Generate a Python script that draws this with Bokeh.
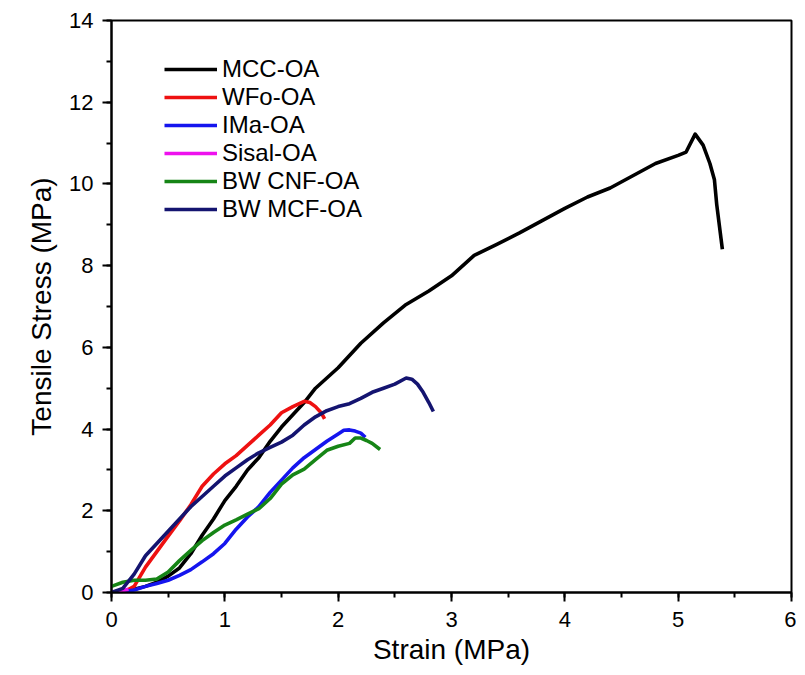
from bokeh.plotting import figure
from bokeh.models import Range1d, SingleIntervalTicker, Legend, LegendItem
from bokeh.embed import file_html
from bokeh.resources import INLINE

# ---- data ----
mcc_x = [0, 0.1, 0.2, 0.3, 0.4, 0.5, 0.6, 0.7, 0.8, 0.9, 1.0, 1.1, 1.2, 1.3, 1.4, 1.5, 1.6, 1.7, 1.8, 1.9,
         2.0, 2.1, 2.2, 2.4, 2.6, 2.8, 3.0, 3.2, 3.4, 3.6, 3.8, 4.0, 4.2, 4.4, 4.6, 4.8, 5.0, 5.07, 5.15,
         5.22, 5.28, 5.32, 5.34, 5.39]
mcc_y = [0, 0.03, 0.08, 0.15, 0.25, 0.4, 0.6, 0.95, 1.4, 1.8, 2.25, 2.6, 3.0, 3.3, 3.7, 4.05, 4.35, 4.65, 5.0, 5.25,
         5.5, 5.8, 6.1, 6.6, 7.05, 7.38, 7.75, 8.25, 8.52, 8.8, 9.1, 9.4, 9.68, 9.9, 10.2, 10.5, 10.7, 10.78, 11.22,
         10.95, 10.5, 10.1, 9.5, 8.4]

wfo_x = [0.1, 0.2, 0.3, 0.4, 0.5, 0.6, 0.7, 0.8, 0.9, 1.0, 1.1, 1.2, 1.3, 1.4, 1.5, 1.6, 1.7, 1.75, 1.8, 1.85, 1.88]
wfo_y = [0.0, 0.15, 0.62, 1.0, 1.38, 1.75, 2.15, 2.6, 2.9, 3.15, 3.35, 3.6, 3.85, 4.1, 4.4, 4.55, 4.68, 4.65, 4.55, 4.4, 4.25]

ima_x = [0, 0.1, 0.2, 0.3, 0.4, 0.5, 0.6, 0.7, 0.8, 0.9, 1.0, 1.1, 1.2, 1.3, 1.4, 1.5, 1.6, 1.7, 1.8, 1.9,
         2.0, 2.05, 2.1, 2.15, 2.2, 2.24]
ima_y = [0, 0.02, 0.06, 0.15, 0.22, 0.3, 0.42, 0.56, 0.75, 0.95, 1.2, 1.55, 1.85, 2.1, 2.45, 2.75, 3.05, 3.3, 3.5, 3.7,
         3.88, 3.97, 3.98, 3.95, 3.9, 3.8]

sisal_x = [0, 0.05, 0.1, 0.15]
sisal_y = [0, 0.02, 0.05, 0.08]

cnf_x = [0, 0.1, 0.2, 0.3, 0.4, 0.5, 0.6, 0.7, 0.8, 0.9, 1.0, 1.1, 1.2, 1.3, 1.4, 1.5, 1.6, 1.7, 1.8, 1.9,
         2.0, 2.1, 2.15, 2.2, 2.25, 2.3, 2.37]
cnf_y = [0.15, 0.25, 0.3, 0.3, 0.33, 0.5, 0.78, 1.03, 1.27, 1.47, 1.65, 1.78, 1.92, 2.05, 2.3, 2.65, 2.88, 3.02, 3.25, 3.48,
         3.58, 3.65, 3.78, 3.78, 3.72, 3.65, 3.5]

mcf_x = [0, 0.1, 0.2, 0.3, 0.4, 0.5, 0.6, 0.7, 0.8, 0.9, 1.0, 1.1, 1.2, 1.3, 1.4, 1.5, 1.6, 1.7, 1.8, 1.9,
         2.0, 2.1, 2.2, 2.3, 2.4, 2.5, 2.6, 2.65, 2.7, 2.75, 2.8, 2.84]
mcf_y = [0, 0.1, 0.45, 0.9, 1.2, 1.5, 1.8, 2.1, 2.35, 2.6, 2.85, 3.05, 3.25, 3.42, 3.55, 3.68, 3.85, 4.1, 4.3, 4.45,
         4.55, 4.62, 4.75, 4.9, 5.0, 5.1, 5.25, 5.22, 5.1, 4.9, 4.65, 4.43]

labels = ["MCC-OA", "WFo-OA", "IMa-OA", "Sisal-OA", "BW CNF-OA", "BW MCF-OA"]
colors = ["#000000", "#ee1111", "#1515ee", "#ee11ee", "#168516", "#141470"]
series = [(mcc_x, mcc_y), (wfo_x, wfo_y), (ima_x, ima_y), (sisal_x, sisal_y), (cnf_x, cnf_y), (mcf_x, mcf_y)]

FONT = "Liberation Sans"

p = figure(width=796, height=667, output_backend="svg", toolbar_location=None,
           x_range=Range1d(0, 6), y_range=Range1d(0, 14),
           min_border_left=111, min_border_right=5, min_border_top=20, min_border_bottom=75)

p.xgrid.visible = False
p.ygrid.visible = False
p.outline_line_color = "black"
p.outline_line_width = 2
p.background_fill_color = "white"
p.border_fill_color = "white"

p.xaxis.ticker = SingleIntervalTicker(interval=1, num_minor_ticks=2)
p.yaxis.ticker = SingleIntervalTicker(interval=2, num_minor_ticks=2)

for ax in (p.xaxis, p.yaxis):
    ax.axis_line_width = 2
    ax.axis_line_color = "black"
    ax.major_tick_line_width = 2
    ax.minor_tick_line_width = 2
    ax.major_tick_in = 0
    ax.major_tick_out = 9
    ax.minor_tick_in = 0
    ax.minor_tick_out = 5
    ax.major_label_text_font = FONT
    ax.major_label_text_font_size = "22px"
    ax.major_label_text_color = "black"
    ax.axis_label_text_font = FONT
    ax.axis_label_text_font_size = "28px"
    ax.axis_label_text_font_style = "normal"
    ax.axis_label_text_color = "black"

p.xaxis.axis_label = "Strain (MPa)"
p.yaxis.axis_label = "Tensile Stress (MPa)"
p.xaxis.major_label_standoff = 10
p.yaxis.major_label_standoff = 9
p.xaxis.axis_label_standoff = 4
p.yaxis.axis_label_standoff = 9

items = []
for (xs, ys), lab, col in zip(series, labels, colors):
    r = p.line(xs, ys, line_color=col, line_width=3.6, line_join="round")
    items.append(LegendItem(label=lab, renderers=[r]))

legend = Legend(items=items, location=(53, 369), orientation="vertical",
                glyph_width=53, glyph_height=24, label_height=24, spacing=0,
                label_standoff=5, padding=0, margin=0,
                border_line_color=None, background_fill_alpha=0,
                label_text_font=FONT, label_text_font_size="24px", label_text_color="black")
p.add_layout(legend)

open("out.html", "w").write(file_html(p, INLINE))
